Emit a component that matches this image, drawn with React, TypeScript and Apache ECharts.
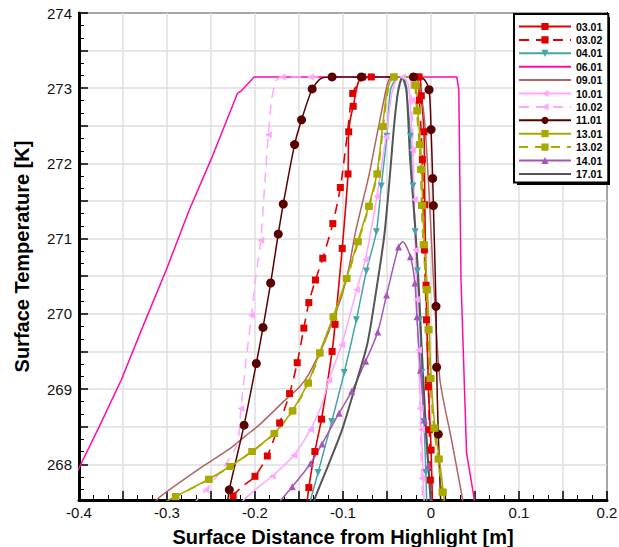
import React, { useEffect, useRef } from 'react';
import * as echarts from 'echarts';

const FONT = '"Liberation Sans", Arial, Helvetica, sans-serif';

const xLabels = [-0.4, -0.3, -0.2, -0.1, 0, 0.1, 0.2];
const yLabels = [268, 269, 270, 271, 272, 273, 274];

const seriesNames = ['03.01', '03.02', '04.01', '06.01', '09.01', '10.01', '10.02', '11.01', '13.01', '13.02', '14.01', '17.01'];

// [x, y, marker]
const s0301 = [
  [-0.1426, 267.30, 0], [-0.1388, 267.69, 1], [-0.1320, 268.17, 1], [-0.1244, 268.60, 1],
  [-0.1124, 269.50, 1], [-0.1090, 269.86, 1], [-0.1009, 270.87, 1], [-0.0943, 271.86, 1],
  [-0.0935, 272.42, 1], [-0.0884, 272.76, 1], [-0.0777, 273.15, 1], [-0.0135, 273.15, 1],
  [-0.0110, 272.90, 1], [-0.0080, 272.42, 1], [-0.0070, 271.45, 1], [-0.0056, 270.38, 1],
  [-0.0030, 269.03, 1], [0.0001, 268.19, 1], [0.0020, 267.30, 0],
];
const s0302 = [
  [-0.2290, 267.35, 0], [-0.2249, 267.58, 1], [-0.2124, 267.72, 0], [-0.2000, 267.84, 1],
  [-0.1860, 268.11, 1], [-0.1720, 268.55, 1], [-0.1607, 268.94, 1], [-0.1520, 269.35, 1],
  [-0.1445, 269.81, 1], [-0.1388, 270.15, 1], [-0.1313, 270.45, 1], [-0.1230, 270.74, 1],
  [-0.1116, 271.20, 1], [-0.1030, 271.68, 1], [-0.0960, 272.30, 0], [-0.0890, 272.93, 1],
  [-0.0800, 273.10, 0], [-0.0678, 273.15, 1], [-0.0166, 273.15, 1], [-0.0132, 272.84, 1],
  [-0.0098, 272.05, 1], [-0.0075, 270.85, 1], [-0.0052, 269.92, 1], [-0.0030, 269.12, 1],
  [-0.0019, 268.46, 1], [-0.0007, 267.79, 1], [0.0006, 267.30, 0],
];
const s0401 = [
  [-0.1424, 267.30, 0], [-0.1283, 267.89, 1], [-0.1128, 268.57, 1], [-0.0986, 269.22, 1],
  [-0.0848, 269.92, 1], [-0.0734, 270.57, 1], [-0.0621, 271.09, 1], [-0.0565, 271.70, 1],
  [-0.0502, 272.36, 1], [-0.0460, 272.98, 0], [-0.0390, 273.14, 0], [-0.0340, 273.15, 0],
  [-0.0280, 272.95, 0], [-0.0234, 272.36, 1], [-0.0205, 271.70, 1], [-0.0180, 271.09, 1],
  [-0.0155, 270.57, 1], [-0.0128, 269.92, 1], [-0.0105, 269.22, 1], [-0.0080, 268.57, 1],
  [-0.0058, 267.89, 1], [-0.0045, 267.30, 0],
];
const s0601 = [
  [-0.4100, 267.70], [-0.4000, 267.95], [-0.3770, 268.50], [-0.3520, 269.12], [-0.3275, 269.83],
  [-0.3010, 270.58], [-0.2747, 271.38], [-0.2500, 272.05], [-0.2200, 272.93], [-0.2160, 272.96],
  [-0.2010, 273.15], [0.0293, 273.15], [0.0316, 272.98], [0.0341, 270.45], [0.0404, 268.15],
  [0.0480, 267.62], [0.0508, 267.40],
];
const s0901 = [
  [-0.3200, 267.40], [-0.3087, 267.56], [-0.2558, 268.00], [-0.2294, 268.20], [-0.2105, 268.38],
  [-0.1954, 268.52], [-0.1652, 268.86], [-0.1500, 269.02], [-0.1388, 269.20], [-0.1200, 269.65],
  [-0.1105, 269.95], [-0.1011, 270.25], [-0.0935, 270.60], [-0.0856, 271.10], [-0.0709, 271.82],
  [-0.0596, 272.49], [-0.0520, 272.93], [-0.0483, 273.10], [-0.0440, 273.15], [-0.0180, 273.15],
  [-0.0086, 272.71], [-0.0030, 271.78], [0.0027, 270.48], [0.0102, 269.12], [0.0234, 268.32],
  [0.0347, 267.61], [0.0378, 267.40],
];
const s1001 = [
  [-0.2200, 267.45, 0], [-0.2000, 267.66, 0], [-0.1804, 267.84, 1], [-0.1558, 268.12, 1],
  [-0.1369, 268.46, 1], [-0.1241, 268.79, 0], [-0.1162, 269.12, 1], [-0.1015, 269.59, 1],
  [-0.0845, 270.32, 1], [-0.0746, 270.72, 1], [-0.0615, 271.56, 1], [-0.0513, 272.35, 1],
  [-0.0445, 272.93, 0], [-0.0380, 273.14, 0], [-0.0324, 273.15, 1], [-0.0256, 273.04, 0],
  [-0.0210, 272.18, 1], [-0.0177, 270.85, 1], [-0.0143, 269.52, 1], [-0.0109, 268.46, 1],
  [-0.0075, 267.40, 0],
];
const s1002 = [
  [-0.2720, 267.45, 0], [-0.2558, 267.66, 1], [-0.2340, 267.99, 0], [-0.2200, 268.28, 0],
  [-0.2160, 268.74, 1], [-0.2100, 269.40, 0], [-0.2040, 269.98, 1], [-0.1990, 270.50, 0],
  [-0.1935, 270.98, 1], [-0.1886, 271.78, 0], [-0.1849, 272.38, 1], [-0.1810, 272.85, 0],
  [-0.1760, 273.10, 0], [-0.1690, 273.15, 1], [-0.1370, 273.15, 1], [-0.0250, 273.15, 0],
  [-0.0222, 272.84, 1], [-0.0188, 271.52, 1], [-0.0166, 270.19, 1], [-0.0124, 268.74, 1],
  [-0.0106, 267.81, 1], [-0.0086, 267.40, 0],
];
const s1101 = [
  [-0.2320, 267.40, 0], [-0.2292, 267.66, 1], [-0.2124, 268.52, 1], [-0.1985, 269.34, 1],
  [-0.1909, 269.82, 1], [-0.1822, 270.41, 1], [-0.1736, 271.06, 1], [-0.1679, 271.46, 1],
  [-0.1550, 272.25, 1], [-0.1471, 272.58, 1], [-0.1350, 272.99, 1], [-0.1250, 273.13, 0],
  [-0.1124, 273.15, 1], [-0.0792, 273.15, 1], [-0.0200, 273.15, 1], [-0.0080, 273.12, 0],
  [-0.0022, 272.98, 1], [0.0001, 272.45, 1], [0.0019, 271.80, 1], [0.0027, 271.44, 1],
  [0.0057, 270.10, 1], [0.0064, 269.29, 1], [0.0083, 268.40, 1], [0.0110, 267.52, 0],
  [0.0120, 267.35, 0],
];
const s1301 = [
  [-0.3100, 267.45, 0], [-0.2905, 267.57, 1], [-0.2528, 267.80, 1], [-0.2286, 267.97, 1],
  [-0.2037, 268.17, 1], [-0.1784, 268.41, 1], [-0.1577, 268.71, 1], [-0.1400, 269.08, 1],
  [-0.1267, 269.48, 1], [-0.1113, 269.96, 1], [-0.0961, 270.47, 1], [-0.0834, 270.96, 1],
  [-0.0709, 271.43, 1], [-0.0615, 271.86, 1], [-0.0550, 272.49, 1], [-0.0500, 272.95, 0],
  [-0.0426, 273.15, 1], [-0.0210, 273.15, 0], [-0.0170, 273.04, 1], [-0.0150, 272.70, 1],
  [-0.0120, 272.25, 1], [-0.0105, 271.92, 1], [-0.0095, 271.44, 1], [-0.0075, 270.92, 1],
  [-0.0041, 270.32, 1], [-0.0021, 269.79, 1], [0.0001, 269.14, 1], [0.0046, 268.48, 1],
  [0.0095, 268.07, 1], [0.0140, 267.63, 1], [0.0165, 267.40, 0],
];
const s1302 = [
  [-0.3090, 267.45, 0], [-0.2898, 267.57, 1], [-0.2520, 267.80, 1], [-0.2278, 267.97, 1],
  [-0.2029, 268.17, 1], [-0.1776, 268.41, 1], [-0.1569, 268.71, 1], [-0.1392, 269.08, 1],
  [-0.1259, 269.48, 1], [-0.1105, 269.96, 1], [-0.0953, 270.47, 1], [-0.0826, 270.96, 1],
  [-0.0701, 271.43, 1], [-0.0607, 271.86, 1], [-0.0542, 272.49, 1], [-0.0492, 272.95, 0],
  [-0.0418, 273.15, 1], [-0.0225, 273.15, 0], [-0.0185, 273.04, 1], [-0.0163, 272.70, 1],
  [-0.0133, 272.25, 1], [-0.0118, 271.92, 1], [-0.0108, 271.44, 1], [-0.0088, 270.92, 1],
  [-0.0054, 270.32, 1], [-0.0034, 269.79, 1], [-0.0012, 269.14, 1], [0.0032, 268.48, 1],
  [0.0080, 268.07, 1], [0.0125, 267.63, 1], [0.0150, 267.40, 0],
];
const s1401 = [
  [-0.1760, 267.45, 0], [-0.1577, 267.70, 1], [-0.1369, 268.01, 1], [-0.1238, 268.27, 1],
  [-0.1045, 268.68, 1], [-0.0901, 268.97, 1], [-0.0743, 269.37, 1], [-0.0605, 269.76, 1],
  [-0.0505, 270.25, 1], [-0.0369, 270.89, 1], [-0.0320, 270.96, 0], [-0.0234, 270.76, 1],
  [-0.0183, 270.41, 1], [-0.0160, 269.96, 1], [-0.0120, 269.25, 1], [-0.0075, 268.59, 1],
  [-0.0030, 267.98, 1], [0.0004, 267.52, 0], [0.0012, 267.40, 0],
];
const s1701 = [
  [-0.1360, 267.40], [-0.1312, 267.57], [-0.1160, 268.01], [-0.1010, 268.46], [-0.0840, 269.12],
  [-0.0720, 269.62], [-0.0604, 270.45], [-0.0530, 271.05], [-0.0470, 271.80], [-0.0420, 272.50],
  [-0.0375, 272.95], [-0.0324, 273.15], [-0.0280, 273.00], [-0.0237, 272.05], [-0.0180, 271.16],
  [-0.0143, 270.45], [-0.0106, 269.56], [-0.0067, 268.68], [-0.0010, 267.61], [0.0005, 267.40],
];

function withMarkers(a: number[][]) {
  return a.map(([x, y, m]) => (m ? [x, y] : { value: [x, y], symbol: 'none' }));
}
function plain(a: number[][]) {
  return a.map(([x, y]) => [x, y]);
}

function line(name: string, data: any[], color: string, o: any = {}) {
  return {
    name,
    type: 'line',
    data,
    smooth: o.smooth ?? 0.25,
    symbol: o.symbol ?? 'none',
    symbolSize: o.size ?? 7,
    symbolRotate: o.rotate ?? 0,
    showSymbol: true,
    showAllSymbol: true,
    clip: true,
    lineStyle: { color, width: o.width ?? 1.5, type: o.dash ?? 'solid' },
    itemStyle: { color, borderWidth: 0 },
    emphasis: { disabled: true },
  };
}

export default function App() {
  const ref = useRef<HTMLDivElement>(null);
  useEffect(() => {
    if (!ref.current) return;
    const chart = echarts.init(ref.current, undefined, { renderer: 'svg' });
    const red = '#e00000';
    const teal = '#44a6a6';
    const mag = '#ff0aa8';
    const rosy = '#b26262';
    const pink = '#ffa6ff';
    const maroon = '#5a0000';
    const olive = '#a9a900';
    const purple = '#a657b6';
    const gray = '#555555';
    const series = [
      line(seriesNames[0], withMarkers(s0301), red, { symbol: 'rect', size: 7, width: 1.6 }),
      line(seriesNames[1], withMarkers(s0302), red, { symbol: 'rect', size: 7, width: 1.6, dash: [10, 7] }),
      line(seriesNames[2], withMarkers(s0401), teal, { symbol: 'triangle', size: 7, rotate: 180 }),
      line(seriesNames[3], plain(s0601), mag, { smooth: false }),
      line(seriesNames[4], plain(s0901), rosy, {}),
      line(seriesNames[5], withMarkers(s1001), pink, { symbol: 'triangle', size: 7, rotate: 90 }),
      line(seriesNames[6], withMarkers(s1002), pink, { symbol: 'triangle', size: 7, rotate: 90, dash: [10, 7] }),
      line(seriesNames[7], withMarkers(s1101), maroon, { symbol: 'circle', size: 9 }),
      line(seriesNames[8], withMarkers(s1301), olive, { symbol: 'rect', size: 7, width: 1.6 }),
      line(seriesNames[9], withMarkers(s1302), olive, { symbol: 'rect', size: 7, width: 1.6, dash: [9, 7] }),
      line(seriesNames[10], withMarkers(s1401), purple, { symbol: 'triangle', size: 7 }),
      line(seriesNames[11], plain(s1701), gray, { width: 2 }),
    ];
    const noMarker = ['06.01', '09.01', '17.01'];
    chart.setOption({
      animation: false,
      backgroundColor: '#fff',
      grid: {
        left: 79, right: 12, top: 13, bottom: 47, show: true, borderColor: '#000', borderWidth: 2,
        backgroundColor: 'transparent', containLabel: false, outerBoundsMode: 'none',
      },
      xAxis: {
        type: 'value', min: -0.4, max: 0.2, interval: 0.05,
        name: 'Surface Distance from Highlight [m]', nameLocation: 'middle', nameGap: 27,
        nameTextStyle: { fontFamily: FONT, fontSize: 20, fontWeight: 'bold', color: '#000' },
        axisLine: { onZero: false, lineStyle: { color: '#000', width: 3 } },
        axisTick: { inside: true, length: 9, lineStyle: { color: '#000', width: 1.5 } },
        minorTick: { show: true, splitNumber: 3, length: 5, lineStyle: { color: '#000', width: 1 } },
        splitLine: { show: true, lineStyle: { color: '#dedede', width: 1.5 } },
        axisLabel: {
          fontFamily: FONT, fontSize: 15, color: '#111', margin: 5,
          formatter: (v: number) => {
            const r = Math.round(v * 10) / 10;
            if (Math.abs(v - r) > 1e-6) return '';
            const f = xLabels.find((t) => Math.abs(t - r) < 1e-6);
            return f === undefined ? '' : String(f);
          },
        },
      },
      yAxis: {
        type: 'value', min: 267.525, max: 274, splitNumber: 13,
        name: 'Surface Temperature [K]', nameLocation: 'middle', nameGap: 47,
        nameTextStyle: { fontFamily: FONT, fontSize: 20, fontWeight: 'bold', color: '#000' },
        axisLine: { onZero: false, lineStyle: { color: '#000', width: 3 } },
        axisTick: { inside: true, length: 9, lineStyle: { color: '#000', width: 1.5 } },
        minorTick: { show: true, splitNumber: 3, length: 5, lineStyle: { color: '#000', width: 1 } },
        splitLine: { show: true, lineStyle: { color: '#dedede', width: 1.5 } },
        axisLabel: {
          fontFamily: FONT, fontSize: 15, color: '#111', margin: 7,
          formatter: (v: number) => {
            const f = yLabels.find((t) => Math.abs(t - v) < 1e-6);
            return f === undefined ? '' : String(f);
          },
        },
      },
      legend: {
        orient: 'vertical', left: 514, top: 14, padding: [7, 6, 3, 4],
        itemWidth: 52, itemHeight: 9, itemGap: 2.4,
        backgroundColor: '#fff', borderColor: '#000', borderWidth: 2,
        textStyle: { fontFamily: FONT, fontSize: 10.5, fontWeight: 'bold', color: '#000', lineHeight: 11 },
        data: seriesNames.map((n) => (noMarker.includes(n) ? { name: n, itemStyle: { opacity: 0 } } : { name: n })),
      },
      graphic: [
        { type: 'rect', z: 3, shape: { x: 517, y: 17, width: 93, height: 168 }, style: { fill: '#000' } },
      ],
      series,
    });
    return () => chart.dispose();
  }, []);
  return <div ref={ref} style={{ position: 'fixed', left: 0, top: 0, width: 619, height: 547, background: '#fff' }} />;
}
